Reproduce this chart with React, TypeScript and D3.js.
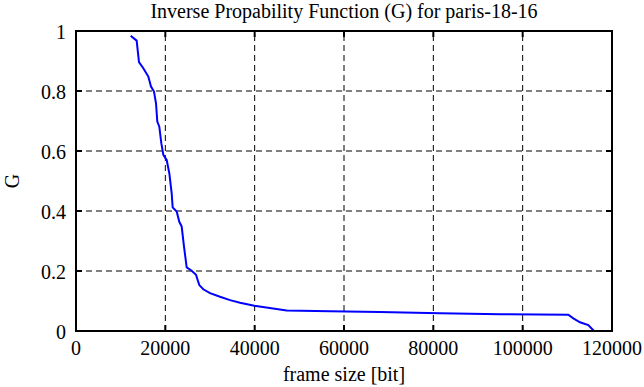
import React from 'react';
import * as d3 from 'd3';

// frame size [bit] vs G
const frameSize = [
  12240, 13580, 14100, 15070, 16190, 16790, 17460, 17910, 18200, 18650, 19100, 19550,
  20300, 20890, 21420, 21640, 22540, 23130, 23660, 24180, 24780, 25900, 26870, 27600,
  28500, 30000, 32240, 34480, 36720, 39920, 47160, 56870, 68000, 81490, 95000, 110220,
  111340, 112840, 114700, 115970,
];
const gValues = [
  0.984, 0.968, 0.896, 0.876, 0.848, 0.815, 0.798, 0.759, 0.698, 0.681, 0.626, 0.587,
  0.57, 0.526, 0.459, 0.412, 0.398, 0.364, 0.348, 0.281, 0.212, 0.201, 0.187, 0.153,
  0.139, 0.126, 0.114, 0.103, 0.094, 0.084, 0.068, 0.066, 0.063, 0.059, 0.056, 0.054,
  0.042, 0.029, 0.02, 0,
];
const xTicks = [0, 20000, 40000, 60000, 80000, 100000, 120000];
const yTicks = [0, 0.2, 0.4, 0.6, 0.8, 1];

const W = 644;
const H = 387;
const m = { left: 76, right: 32, top: 31, bottom: 56 };
const font = '"Liberation Serif", "DejaVu Serif", serif';

export default function App() {
  const x = d3.scaleLinear().domain([0, 120000]).range([m.left, W - m.right]);
  const y = d3.scaleLinear().domain([0, 1]).range([H - m.bottom, m.top]);
  const pts: [number, number][] = frameSize.map((f, i) => [f, gValues[i]]);
  const line = d3.line<[number, number]>().x(d => x(d[0])).y(d => y(d[1]));

  return (
    <svg width={W} height={H} style={{ position: 'absolute', left: 0, top: 0 }} fontFamily={font}>
      <rect width={W} height={H} fill="#fff" />
      {/* grid */}
      {xTicks.slice(1, -1).map(t => (
        <line key={'gx' + t} x1={x(t)} x2={x(t)} y1={y(0)} y2={y(1)} stroke="#000" strokeWidth={1} strokeDasharray="6,4" />
      ))}
      {yTicks.slice(1, -1).map(t => (
        <line key={'gy' + t} x1={x(0)} x2={x(120000)} y1={y(t)} y2={y(t)} stroke="#000" strokeWidth={1} strokeDasharray="6,4" />
      ))}
      {/* inner ticks */}
      {xTicks.slice(1, -1).map(t => (
        <g key={'tx' + t}>
          <line x1={x(t)} x2={x(t)} y1={y(0)} y2={y(0) - 6} stroke="#000" strokeWidth={2} />
          <line x1={x(t)} x2={x(t)} y1={y(1)} y2={y(1) + 6} stroke="#000" strokeWidth={2} />
        </g>
      ))}
      {yTicks.slice(1, -1).map(t => (
        <g key={'ty' + t}>
          <line x1={x(0)} x2={x(0) + 6} y1={y(t)} y2={y(t)} stroke="#000" strokeWidth={2} />
          <line x1={x(120000)} x2={x(120000) - 6} y1={y(t)} y2={y(t)} stroke="#000" strokeWidth={2} />
        </g>
      ))}
      <path d={line(pts) ?? ''} fill="none" stroke="#0000ff" strokeWidth={2} />
      <rect x={x(0)} y={y(1)} width={x(120000) - x(0)} height={y(0) - y(1)} fill="none" stroke="#000" strokeWidth={2} />
      {/* tick labels */}
      {xTicks.map(t => (
        <text key={'lx' + t} x={x(t)} y={y(0) + 24} textAnchor="middle" fontSize={20}>{t}</text>
      ))}
      {yTicks.map(t => (
        <text key={'ly' + t} x={x(0) - 10} y={y(t) + 8} textAnchor="end" fontSize={20}>{t}</text>
      ))}
      <text x={(x(0) + x(120000)) / 2} y={18} textAnchor="middle" fontSize={20}>
        Inverse Propability Function (G) for paris-18-16
      </text>
      <text x={(x(0) + x(120000)) / 2} y={381} textAnchor="middle" fontSize={20}>frame size [bit]</text>
      <text transform={`translate(19,${(y(0) + y(1)) / 2}) rotate(-90)`} textAnchor="middle" fontSize={20}>G</text>
    </svg>
  );
}
